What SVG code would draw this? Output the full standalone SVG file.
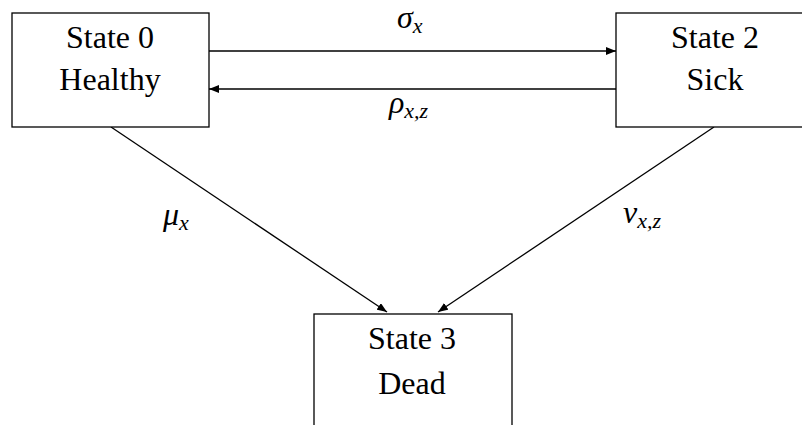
<svg xmlns="http://www.w3.org/2000/svg" width="802" height="425" viewBox="0 0 802 425">
<style>
.box{fill:#fff;stroke:#000;stroke-width:1.3}
text{font-family:"Liberation Serif","Noto Serif","DejaVu Serif",Tinos,Times,"Times New Roman",serif}
.t{font-size:32px;text-anchor:middle;fill:#000}
.m{font-style:italic;font-size:32px;fill:#000}
.s{font-size:22px}
.c{fill:none;stroke:#000;stroke-width:1.3}
</style>
<defs>
<marker id="ah" viewBox="0 0 10 8" refX="10" refY="4" markerWidth="10" markerHeight="8" markerUnits="userSpaceOnUse" orient="auto">
<path d="M0,0 L10,4 L0,8 Z" fill="#000"/>
</marker>
</defs>
<rect width="802" height="425" fill="#fff"/>
<g id="connectors">
<line class="c" x1="209" y1="51" x2="616" y2="51" marker-end="url(#ah)"/>
<line class="c" x1="616" y1="89" x2="209" y2="89" marker-end="url(#ah)"/>
<line class="c" x1="111" y1="127" x2="387" y2="312" marker-end="url(#ah)"/>
<line class="c" x1="714" y1="127" x2="438" y2="312" marker-end="url(#ah)"/>
<text class="m" x="397" y="28">σ<tspan class="s" dy="5">x</tspan></text>
<text class="m" x="389" y="113">ρ<tspan class="s" dy="5">x,z</tspan></text>
<text class="m" x="163" y="225">μ<tspan class="s" dy="5">x</tspan></text>
<text class="m" x="623" y="223">ν<tspan class="s" dy="5">x,z</tspan></text>
</g>
<g id="state0">
<rect class="box" x="12" y="13" width="197" height="114"/>
<text class="t" x="110" y="48">State 0</text>
<text class="t" x="110" y="90">Healthy</text>
</g>
<g id="state2">
<rect class="box" x="616" y="13" width="198" height="114"/>
<text class="t" x="715" y="48">State 2</text>
<text class="t" x="715" y="90">Sick</text>
</g>
<g id="state3">
<rect class="box" x="314" y="314" width="198" height="130"/>
<text class="t" x="412" y="349">State 3</text>
<text class="t" x="412" y="394">Dead</text>
</g>
</svg>
